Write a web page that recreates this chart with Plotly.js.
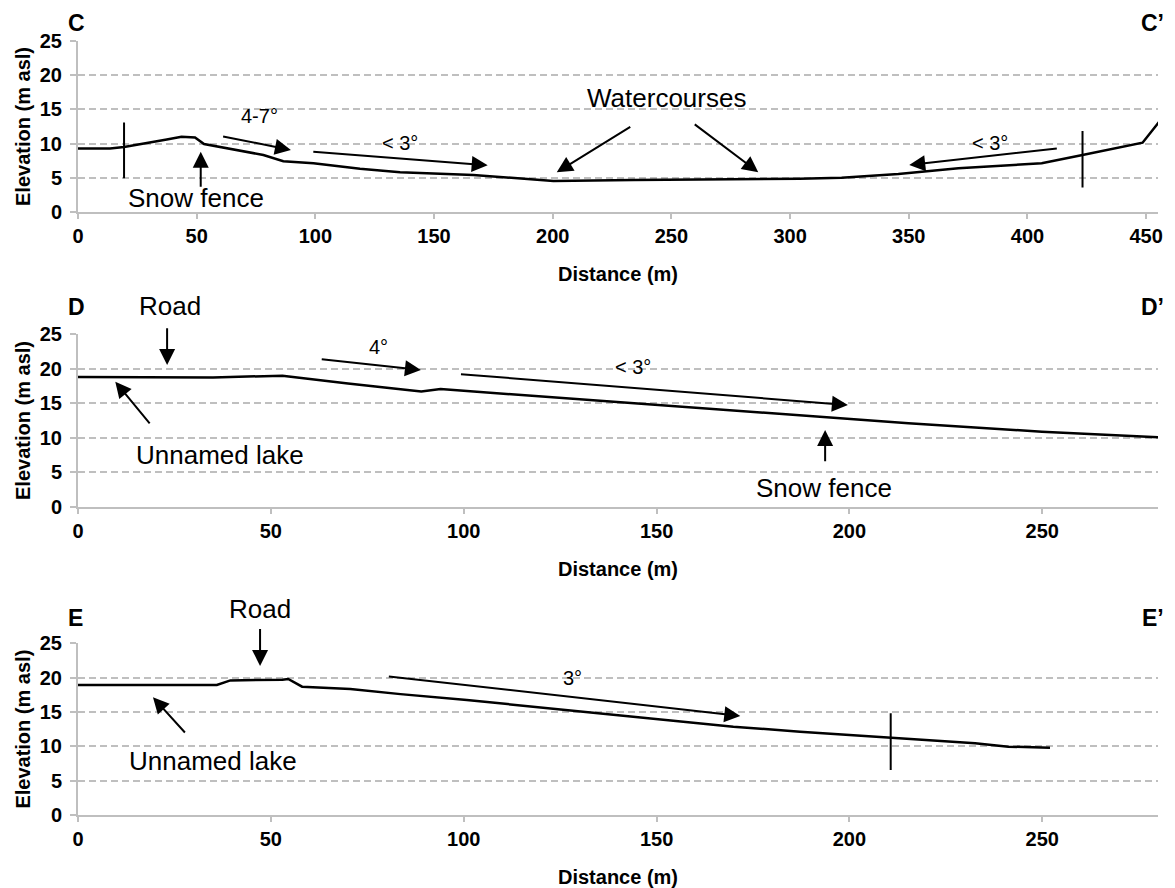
<!DOCTYPE html>
<html>
<head>
<meta charset="utf-8">
<script src="https://cdn.plot.ly/plotly-3.0.1.min.js"></script>
<style>html,body{margin:0;padding:0;background:#fff}#chart{width:1175px;height:888px}</style>
</head>
<body>
<div id="chart"></div>
<script>
// ---- Profile C–C' ----
const distC = [0, 13.5, 19.4, 30, 37.4, 43.6, 49.3, 53.1, 65.4, 78.1, 86.5, 99.2, 118.8, 135.7, 166.5, 194.6, 200.3, 234, 276, 304, 321.7, 345.6, 370.9, 406, 423.2, 438.3, 448.5, 455.5];
const elevC = [9.3, 9.3, 9.5, 10.1, 10.6, 11.0, 10.9, 9.95, 9.2, 8.35, 7.45, 7.15, 6.35, 5.85, 5.43, 4.7, 4.56, 4.7, 4.8, 4.9, 5.04, 5.58, 6.4, 7.14, 8.35, 9.4, 10.14, 13.2];
// ---- Profile D–D' ----
const distD = [0, 35, 53, 70, 86, 89, 94, 118, 144, 170, 180.7, 193.7, 215.3, 249.9, 275.8, 280];
const elevD = [18.8, 18.75, 19.0, 17.85, 16.9, 16.7, 17.05, 16.05, 15.0, 13.9, 13.45, 12.96, 12.1, 10.88, 10.15, 10.06];
// ---- Profile E–E' ----
const distE = [0, 36, 39.5, 45, 53, 54.5, 58.1, 70.6, 83.6, 100.8, 126.7, 152.7, 169.9, 187.2, 210.5, 220, 232.6, 241.2, 252];
const elevE = [18.93, 18.93, 19.6, 19.6, 19.7, 19.8, 18.68, 18.35, 17.6, 16.74, 15.29, 13.83, 12.86, 12.13, 11.26, 10.95, 10.44, 9.95, 9.8];

// vertical markers: [distance, bottom elevation, top elevation]
const markersC = [[19.4, 4.95, 13.1], [423.2, 3.6, 11.85]];
const markersE = [[210.7, 6.55, 14.8]];

// arrows: [tailX, tailY, headX, headY]
const arrowsC = [[60.5, 11.1, 89.7, 9.08], [98.5, 8.83, 172.6, 6.85], [233.3, 12.57, 201.7, 5.83], [259.2, 12.97, 286.6, 5.83], [413, 9.32, 350.2, 6.89], [51.7, 3.5, 51.7, 8.83]];
const arrowsD = [[23.1, 26.1, 23.1, 20.55], [18.9, 11.85, 9.67, 18.13], [62.8, 21.42, 88.9, 19.82], [98.9, 19.24, 199.6, 14.75], [193.7, 6.38, 193.7, 11.12]];
const arrowsE = [[47.2, 27.3, 47.2, 21.7], [28.07, 11.8, 19.44, 17.14], [80.2, 20.2, 171.7, 14.41]];

// labels: [text, x, y, kind]  kind: 'big' place label, 'small' slope label
const labelsC = [['4-7°', 76.4, 14.0, 'small'], ['&lt; 3°', 135.7, 10.1, 'small'], ['Watercourses', 248, 16.6, 'big'], ['&lt; 3°', 384.2, 10.05, 'small'], ['Snow fence', 49.9, 2.08, 'big']];
const labelsD = [['Road', 23.9, 29.1, 'big'], ['Unnamed lake', 36.9, 7.5, 'big'], ['4°', 77.9, 23.2, 'small'], ['&lt; 3°', 144, 20.3, 'small'], ['Snow fence', 193.4, 2.67, 'big']];
const labelsE = [['Road', 47.2, 30.0, 'big'], ['Unnamed lake', 35.1, 7.9, 'big'], ['3°', 128.2, 19.9, 'small']];

const panelLetters = [['C', 'C’'], ['D', 'D’'], ['E', 'E’']];
const yTicks = [0, 5, 10, 15, 20, 25];
const yRange = [0, 25];
const xRanges = [[0, 455], [0, 280], [0, 280]];
const xTitle = 'Distance (m)';
const yTitle = 'Elevation (m asl)';

const FONT = 'Liberation Sans, Arial, sans-serif';
const H = 888, L = 78, W = 1080;
const domains = [[1 - 212.3 / H, 1 - 40.7 / H], [1 - 506.7 / H, 1 - 334.3 / H], [1 - 815 / H, 1 - 643.3 / H]];

const traces = [];
function profile(x, y, ax) {
  traces.push({x: x, y: y, xaxis: 'x' + ax, yaxis: 'y' + ax, type: 'scatter', mode: 'lines',
    line: {color: '#000', width: 2.5}, hoverinfo: 'skip', showlegend: false});
}
function markers(list, ax) {
  list.forEach(m => traces.push({x: [m[0], m[0]], y: [m[1], m[2]], xaxis: 'x' + ax, yaxis: 'y' + ax,
    type: 'scatter', mode: 'lines', line: {color: '#000', width: 2}, hoverinfo: 'skip', showlegend: false}));
}
profile(distC, elevC, '');
profile(distD, elevD, '2');
profile(distE, elevE, '3');
markers(markersC, '');
markers(markersE, '3');

const annotations = [];
function arrows(list, ax) {
  list.forEach(a => annotations.push({xref: 'x' + ax, yref: 'y' + ax, axref: 'x' + ax, ayref: 'y' + ax,
    x: a[2], y: a[3], ax: a[0], ay: a[1], text: '', showarrow: true, arrowhead: 2, arrowsize: 1.6,
    arrowwidth: 2, arrowcolor: '#000', standoff: 0, startstandoff: 0}));
}
function labels(list, ax, idx) {
  const xr = xRanges[idx], dom = domains[idx];
  list.forEach(l => {
    const font = {family: FONT, size: l[3] === 'big' ? 26 : 20, color: '#000'};
    if (l[2] > yRange[1]) {
      // above the plotting area: place in paper space from the axis scales
      annotations.push({xref: 'paper', yref: 'paper',
        x: (l[1] - xr[0]) / (xr[1] - xr[0]),
        y: dom[0] + (l[2] - yRange[0]) / (yRange[1] - yRange[0]) * (dom[1] - dom[0]),
        text: l[0], showarrow: false, xanchor: 'center', yanchor: 'middle', font: font});
    } else {
      annotations.push({xref: 'x' + ax, yref: 'y' + ax, x: l[1], y: l[2], text: l[0],
        showarrow: false, xanchor: 'center', yanchor: 'middle', font: font});
    }
  });
}
arrows(arrowsC, ''); arrows(arrowsD, '2'); arrows(arrowsE, '3');
labels(labelsC, '', 0); labels(labelsD, '2', 1); labels(labelsE, '3', 2);

const letterY = [23, 307, 618];
panelLetters.forEach((p, i) => {
  annotations.push({xref: 'paper', yref: 'paper', x: (66 - L) / W, y: 1 - letterY[i] / H, xanchor: 'left', yanchor: 'middle',
    text: p[0], showarrow: false, font: {family: FONT, size: 23, color: '#000', weight: 'bold'}});
  annotations.push({xref: 'paper', yref: 'paper', x: (1166 - L) / W, y: 1 - letterY[i] / H, xanchor: 'right', yanchor: 'middle',
    text: p[1], showarrow: false, font: {family: FONT, size: 23, color: '#000', weight: 'bold'}});
});

function xa(range, anchor) {
  return {range: range, anchor: anchor, domain: [0, 1], dtick: 50, tick0: 0, showgrid: false, zeroline: false,
    showline: true, linecolor: '#bfbfbf', linewidth: 2, ticks: 'outside', ticklen: 5, tickwidth: 2, tickcolor: '#bfbfbf',
    tickfont: {family: FONT, size: 20, color: '#000', weight: 'bold'},
    title: {text: xTitle, font: {family: FONT, size: 20, color: '#000', weight: 'bold'}, standoff: 21}};
}
function ya(domain, anchor) {
  return {range: yRange, anchor: anchor, domain: domain, tickvals: yTicks, showgrid: true, gridcolor: '#bfbfbf',
    gridwidth: 2, griddash: '7px,4px', zeroline: false, showline: true, linecolor: '#bfbfbf', linewidth: 2,
    ticks: 'outside', ticklen: 6, tickwidth: 2, tickcolor: '#bfbfbf', ticklabelstandoff: 4,
    tickfont: {family: FONT, size: 20, color: '#000', weight: 'bold'},
    title: {text: yTitle, font: {family: FONT, size: 20, color: '#000', weight: 'bold'}, standoff: 4}};
}
const layout = {
  width: 1175, height: 888, margin: {l: L, r: 17, t: 0, b: 0}, paper_bgcolor: '#fff', plot_bgcolor: '#fff',
  showlegend: false, annotations: annotations,
  xaxis: xa(xRanges[0], 'y'), yaxis: ya(domains[0], 'x'),
  xaxis2: xa(xRanges[1], 'y2'), yaxis2: ya(domains[1], 'x2'),
  xaxis3: xa(xRanges[2], 'y3'), yaxis3: ya(domains[2], 'x3')
};
Plotly.newPlot('chart', traces, layout, {displayModeBar: false, staticPlot: true});
</script>
</body>
</html>
